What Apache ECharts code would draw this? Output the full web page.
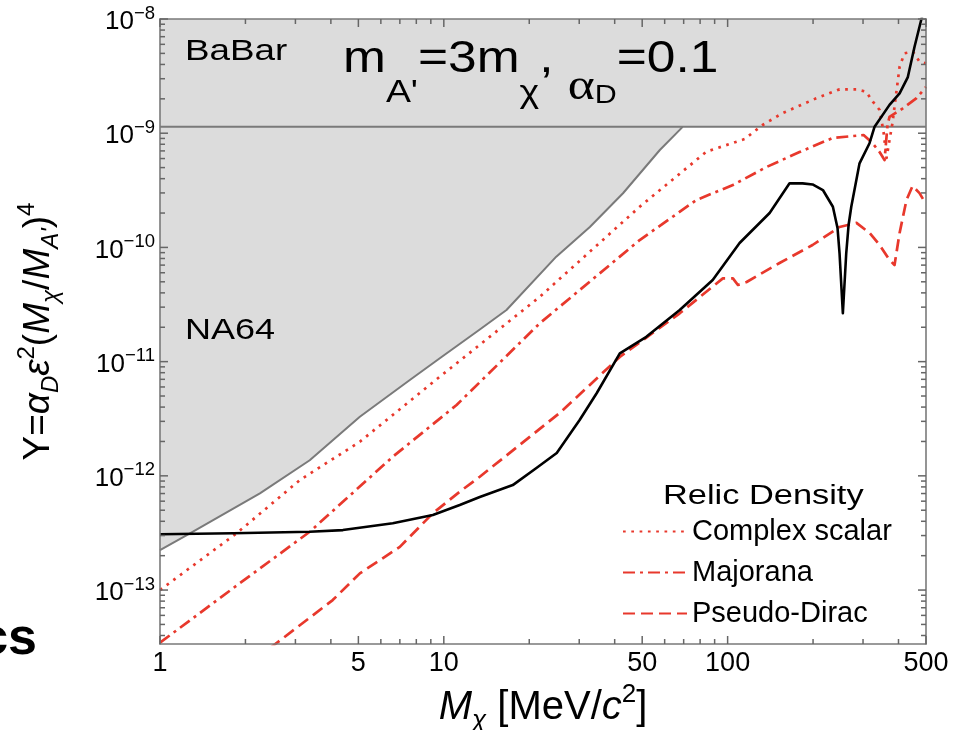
<!DOCTYPE html>
<html><head><meta charset="utf-8">
<script src="https://cdn.jsdelivr.net/npm/echarts@6/dist/echarts.min.js"></script>
<style>html,body{margin:0;padding:0;background:#fff}#c{width:958px;height:730px}</style>
</head><body><div id="c"></div>
<script>
// ---------- data ----------
const xRange = [1, 500];                 // M_chi [MeV/c^2]
const yRange = [3.37e-14, 1e-8];         // Y
const xMajorTicks = [1, 5, 10, 50, 100, 500];
const xMinorTicks = [2, 3, 4, 6, 7, 8, 9, 20, 30, 40, 60, 70, 80, 90, 200, 300, 400];
const yMajorTicks = [1e-13, 1e-12, 1e-11, 1e-10, 1e-9, 1e-8];
const yMinorMultipliers = [2, 3, 4, 5, 6, 7, 8, 9];
const yMinorDecades = [1e-14, 1e-13, 1e-12, 1e-11, 1e-10, 1e-9];

const babarLimit = [[1, 1.14e-9], [500, 1.14e-9]];
const na64Limit = [
  [1, 2.24e-13], [1.275, 3.14e-13], [2.249, 7.03e-13], [3.37, 1.37e-12], [5.06, 3.29e-12],
  [7.59, 6.90e-12], [9.68, 1.07e-11], [13.39, 1.91e-11], [16.63, 2.83e-11], [24.9, 8.30e-11],
  [32.7, 1.51e-10], [42.8, 2.98e-10], [57.7, 7.13e-10], [67.8, 1.07e-9], [69.4, 1.14e-9]
];
const sensitivity = [
  [1, 3.08e-13], [1.81, 3.14e-13], [3.37, 3.24e-13], [4.41, 3.35e-13], [6.61, 3.84e-13],
  [9.15, 4.54e-13], [11.38, 5.55e-13], [13.39, 6.52e-13], [17.5, 8.30e-13], [21.2, 1.17e-12],
  [25.0, 1.585e-12], [30.1, 3.08e-12], [34.6, 5.31e-12], [41.7, 1.18e-11], [51.7, 1.65e-11],
  [67.8, 2.83e-11], [88.6, 5.19e-11], [110.2, 1.094e-10], [140.6, 2.0e-10], [165.3, 3.64e-10],
  [183.7, 3.64e-10], [199.2, 3.56e-10], [216.6, 3.18e-10], [234.9, 2.27e-10], [243.9, 1.48e-10],
  [247.9, 8.93e-11], [254.7, 2.65e-11], [261.8, 8.93e-11], [266.8, 1.57e-10], [272.7, 2.27e-10],
  [291.6, 5.45e-10], [316.2, 8.17e-10], [329.5, 1.14e-9], [371.9, 1.77e-9], [403.6, 2.23e-9],
  [431.5, 3.1e-9], [455.6, 5.71e-9], [480.8, 9.8e-9], [494, 1.25e-8]
];
const complexScalar = [
  [1, 1.0e-13], [1.862, 3.14e-13], [3.11, 9.18e-13], [5.06, 1.99e-12], [9.68, 7.38e-12],
  [21.8, 3.70e-11], [49.0, 2.27e-10], [84.2, 6.89e-10], [114.8, 8.89e-10], [132.8, 1.18e-9],
  [156.2, 1.50e-9], [205.2, 2.02e-9], [247.9, 2.42e-9], [284, 2.42e-9], [307.7, 2.31e-9],
  [324.8, 1.89e-9], [343.1, 1.60e-9], [354.2, 1.03e-9], [363, 6.07e-10], [371.9, 8.71e-10],
  [381, 1.23e-9], [392.6, 2.23e-9], [403.6, 3.82e-9], [420, 5.01e-9], [449.4, 5.18e-9],
  [474.3, 4.23e-9], [500, 4.09e-9]
];
const majorana = [
  [1, 3.46e-14], [1.913, 1.15e-13], [3.37, 3.24e-13], [6.61, 1.47e-12], [11.09, 4.17e-12],
  [21.8, 2.17e-11], [49.0, 1.16e-10], [77.6, 2.60e-10], [104.4, 3.52e-10], [137.1, 5.06e-10],
  [179.2, 6.84e-10], [234.3, 9.08e-10], [275.6, 9.44e-10], [301.3, 9.64e-10], [321.4, 8.37e-10],
  [343.1, 6.84e-10], [357.2, 5.82e-10], [365.9, 1.18e-9], [371.9, 1.39e-9], [414.3, 1.65e-9],
  [461.8, 2.02e-9], [500, 2.54e-9]
];
const pseudoDirac = [
  [2.44, 3.10e-14], [4.06, 8.17e-14], [5.06, 1.40e-13], [7.00, 2.39e-13], [9.15, 4.70e-13],
  [11.38, 7.26e-13], [13.39, 9.82e-13], [25.6, 3.55e-12], [41.7, 1.10e-11], [67.8, 2.65e-11],
  [96.2, 5.36e-11], [104.4, 5.36e-11], [108.7, 4.69e-11], [116.7, 4.98e-11], [152.4, 7.30e-11],
  [199.2, 1.05e-10], [247.9, 1.51e-10], [284.5, 1.64e-10], [316.2, 1.34e-10], [343.1, 1.05e-10],
  [371.9, 7.76e-11], [387.3, 7.02e-11], [403.6, 1.34e-10], [426.8, 2.60e-10], [448.3, 3.45e-10],
  [474.3, 2.99e-10], [500, 2.40e-10]
];
const legendNames = ['Complex scalar', 'Majorana', 'Pseudo-Dirac'];

// ---------- helpers ----------
const L = v => Math.log10(v);
const toLog = arr => arr.map(p => [L(p[0]), L(p[1])]);
const FF = '"Liberation Sans", Arial, Helvetica, sans-serif';
const GRAY = '#7a7a7a', TICK = '#666666', FILL = '#dcdcdc', RED = '#e8382c';
const MAJOR_LEN = 8, MINOR_LEN = 5, TICK_W = 1.5;

const yLo = L(yRange[0]), yHi = L(yRange[1]), xLo = L(xRange[0]), xHi = L(xRange[1]);

const yMinorTicks = [];
yMinorDecades.forEach(d => yMinorMultipliers.forEach(m => {
  const v = m * d; if (v >= yRange[0] && v <= yRange[1]) yMinorTicks.push(v);
}));

// tick marks: small bar symbols placed on the frame through the axes' scales
const tickMarks = [];
function addXTicks(vals, len) {
  vals.forEach(v => {
    tickMarks.push({ value: [L(v), yLo], symbolSize: [TICK_W, len], symbolOffset: [0, -len / 2] });
    tickMarks.push({ value: [L(v), yHi], symbolSize: [TICK_W, len], symbolOffset: [0, len / 2] });
  });
}
function addYTicks(vals, len) {
  vals.forEach(v => {
    tickMarks.push({ value: [xLo, L(v)], symbolSize: [len, TICK_W], symbolOffset: [len / 2, 0] });
    tickMarks.push({ value: [xHi, L(v)], symbolSize: [len, TICK_W], symbolOffset: [-len / 2, 0] });
  });
}
addXTicks(xMajorTicks, MAJOR_LEN); addXTicks(xMinorTicks, MINOR_LEN);
addYTicks(yMajorTicks, MAJOR_LEN); addYTicks(yMinorTicks, MINOR_LEN);

function axis(kind, pos, withLine, label) {
  const r = kind === 'x' ? xRange : yRange;
  return {
    type: 'value', position: pos, min: L(r[0]), max: L(r[1]), z: 10,
    axisLine: { show: withLine, onZero: false, lineStyle: { color: GRAY, width: 1.6 } },
    axisTick: { show: false },
    axisLabel: label || { show: false },
    splitLine: { show: false }
  };
}

const xLabel = {
  show: true, customValues: xMajorTicks.map(L), margin: 6, color: '#000',
  fontFamily: FF, fontSize: 27,
  formatter: v => String(Math.round(Math.pow(10, v)))
};
const yLabel = {
  show: true, customValues: yMajorTicks.map(L), margin: 5, color: '#000',
  formatter: v => '{b|10}{s|\u2212' + Math.round(-v) + '}',
  rich: {
    b: { fontSize: 26, lineHeight: 30, padding: [6, 0, 0, 0], fontFamily: FF, color: '#000' },
    s: { fontSize: 18.5, lineHeight: 29, verticalAlign: 'top', fontFamily: FF, color: '#000' }
  }
};

const xAxes = [axis('x', 'bottom', true, xLabel), axis('x', 'top', true)];
xAxes[0].name = '{i|M}{sub|\u03c7}{n| [MeV/}{i|c}{sup|2}{n|]}';
xAxes[0].nameLocation = 'middle';
xAxes[0].nameGap = 37;
xAxes[0].nameTextStyle = {
  color: '#000', fontFamily: FF, fontSize: 40,
  rich: {
    n: { fontSize: 40, lineHeight: 52, fontFamily: FF, color: '#000' },
    i: { fontSize: 40, lineHeight: 52, fontStyle: 'italic', fontFamily: FF, color: '#000' },
    sub: { fontSize: 26, lineHeight: 26, fontStyle: 'italic', verticalAlign: 'bottom', fontFamily: FF, color: '#000' },
    sup: { fontSize: 26, lineHeight: 26, verticalAlign: 'top', fontFamily: FF, color: '#000' }
  }
};

const yAxes = [axis('y', 'left', true, yLabel), axis('y', 'right', true)];
yAxes[0].name = '{n|Y=}{i|\u03b1}{sub|D}{i|\u03b5}{sup|2}{n|(}{i|M}{sub|\u03c7}{n|/}{i|M}{sub|A\'}{n|)}{sup|4}';
yAxes[0].nameLocation = 'middle';
yAxes[0].nameGap = 97;
yAxes[0].nameRotate = 90;
yAxes[0].nameTextStyle = {
  color: '#000', fontFamily: FF, fontSize: 37,
  rich: {
    n: { fontSize: 37, lineHeight: 48, fontFamily: FF, color: '#000' },
    i: { fontSize: 37, lineHeight: 48, fontStyle: 'italic', fontFamily: FF, color: '#000' },
    sub: { fontSize: 24, lineHeight: 24, fontStyle: 'italic', verticalAlign: 'bottom', fontFamily: FF, color: '#000' },
    sup: { fontSize: 24, lineHeight: 24, verticalAlign: 'top', fontFamily: FF, color: '#000' }
  }
};

function lineSeries(name, data, color, width, type, z, extra) {
  return Object.assign({
    name, type: 'line', data: toLog(data), symbol: 'none', showSymbol: false,
    xAxisIndex: 0, yAxisIndex: 0, z, animation: false,
    itemStyle: { color },
    lineStyle: { color, width, type, cap: 'butt', join: 'round' }
  }, extra || {});
}

const chart = echarts.init(document.getElementById('c'), null, { renderer: 'canvas' });
chart.setOption({
  animation: false,
  backgroundColor: '#fff',
  grid: { left: 160, right: 32, top: 19, bottom: 86, containLabel: false, outerBoundsMode: 'none' },
  xAxis: xAxes,
  yAxis: yAxes,
  legend: {
    orient: 'vertical', left: 622, top: 517, padding: 0, itemGap: 12,
    itemWidth: 64, itemHeight: 14, data: legendNames,
    itemStyle: { color: 'rgba(0,0,0,0)', borderWidth: 0, opacity: 0 },
    textStyle: { fontFamily: FF, fontSize: 29, color: '#000' }
  },
  graphic: [
    { type: 'text', x: 343, y: 11, scaleX: 1.17, z: 20, silent: true,
      style: { text: '{m|m}{sub|A\'}{m|=3m}{sub|\u03c7}{m|, }{al|\u03b1}{d|D}{m|=0.1}',
        fill: '#000', verticalAlign: 'top', align: 'left',
        rich: {
          m: { fontSize: 44, lineHeight: 98, fontFamily: FF, fill: '#000' },
          sub: { fontSize: 32, lineHeight: 35, verticalAlign: 'bottom', fontFamily: FF, fill: '#000' },
          al: { fontSize: 44, lineHeight: 80, verticalAlign: 'bottom', fontFamily: '"Liberation Serif", "Times New Roman", serif', fill: '#000' },
          d: { fontSize: 26, lineHeight: 34, verticalAlign: 'bottom', fontFamily: FF, fill: '#000' }
        } } },
    { type: 'text', x: 185, y: 52, scaleX: 1.27, z: 20, silent: true,
      style: { text: 'BaBar', fontSize: 29, fontFamily: FF, fill: '#000', verticalAlign: 'middle', align: 'left' } },
    { type: 'text', x: 185, y: 331, scaleX: 1.2, z: 20, silent: true,
      style: { text: 'NA64', fontSize: 30, fontFamily: FF, fill: '#000', verticalAlign: 'middle', align: 'left' } },
    { type: 'text', x: 663, y: 496, scaleX: 1.25, z: 20, silent: true,
      style: { text: 'Relic Density', fontSize: 27.5, fontFamily: FF, fill: '#000', verticalAlign: 'middle', align: 'left' } },
    { type: 'text', x: 37, y: 640, z: 20, silent: true,
      style: { text: 'cs', fontSize: 52, fontWeight: 'bold', fontFamily: FF, fill: '#000', verticalAlign: 'middle', align: 'right' } }
  ],
  series: [
    lineSeries('BaBar', babarLimit, GRAY, 2, 'solid', 1, { areaStyle: { color: FILL, opacity: 1, origin: 'end' }, silent: true }),
    lineSeries('NA64', na64Limit, GRAY, 2, 'solid', 1, { areaStyle: { color: FILL, opacity: 1, origin: 'end' }, silent: true }),
    lineSeries('Projected sensitivity', sensitivity, '#000', 2.6, 'solid', 4),
    lineSeries('Complex scalar', complexScalar, RED, 2.7, [2.7, 5.6], 3),
    lineSeries('Majorana', majorana, RED, 2.7, [12, 5, 3, 5], 3),
    lineSeries('Pseudo-Dirac', pseudoDirac, RED, 2.7, [12, 6], 3),
    { name: 'ticks', type: 'scatter', xAxisIndex: 0, yAxisIndex: 0, z: 12, silent: true,
      clip: false, animation: false, symbol: 'rect', data: tickMarks,
      itemStyle: { color: TICK, opacity: 1 }, emphasis: { disabled: true } }
  ]
});
</script></body></html>
